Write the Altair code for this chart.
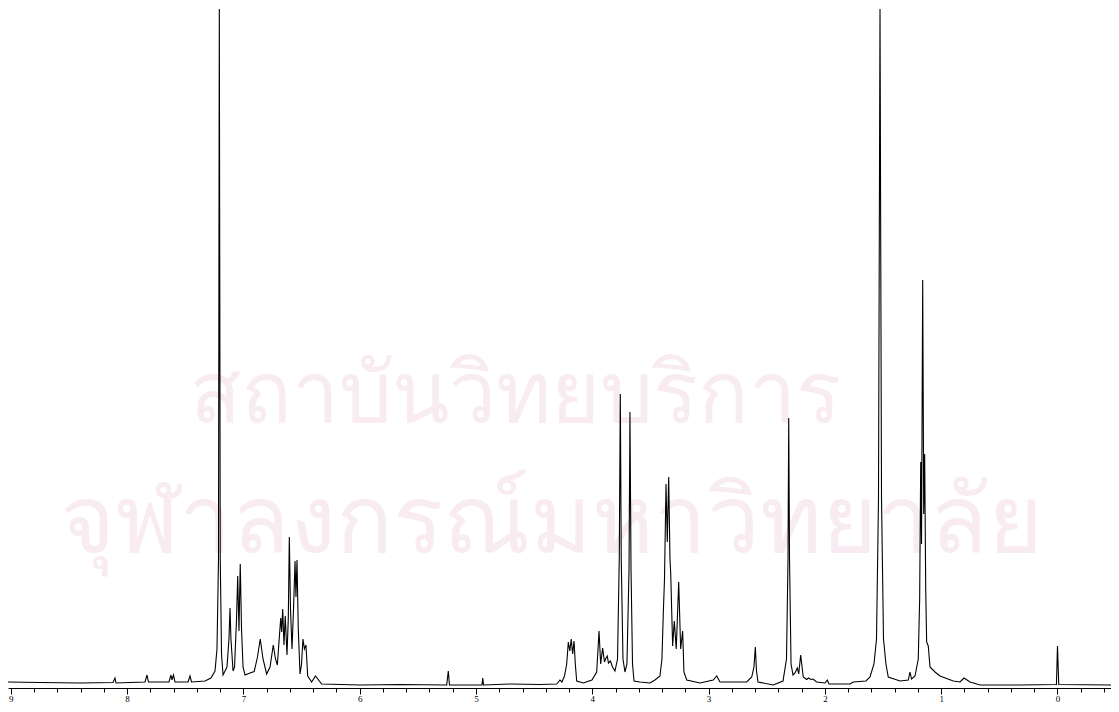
import altair as alt
import pandas as pd

# 1H NMR trace: chemical shift (ppm) and signal height
shift_ppm = [
    9.024, 8.749, 8.405, 8.121, 8.104, 8.095, 7.846, 7.829, 7.816, 7.640,
    7.623, 7.614, 7.601, 7.588, 7.476, 7.459, 7.446, 7.330, 7.279, 7.244,
    7.227, 7.214, 7.207, 7.199, 7.188, 7.175, 7.141, 7.124, 7.115, 7.107,
    7.089, 7.076, 7.059, 7.049, 7.038, 7.027, 7.016, 7.003, 6.986, 6.943,
    6.907, 6.879, 6.855, 6.831, 6.800, 6.771, 6.743, 6.724, 6.708, 6.694,
    6.679, 6.671, 6.662, 6.651, 6.640, 6.625, 6.614, 6.605, 6.595, 6.582,
    6.569, 6.556, 6.548, 6.539, 6.528, 6.513, 6.500, 6.488, 6.475, 6.462,
    6.447, 6.413, 6.380, 6.327, 5.997, 5.653, 5.252, 5.238, 5.228, 4.948,
    4.942, 4.935, 4.708, 4.450, 4.306, 4.278, 4.261, 4.239, 4.220, 4.206,
    4.193, 4.181, 4.169, 4.157, 4.146, 4.134, 4.077, 4.003, 3.962, 3.942,
    3.928, 3.911, 3.895, 3.886, 3.871, 3.861, 3.844, 3.826, 3.805, 3.783,
    3.768, 3.759, 3.751, 3.736, 3.719, 3.702, 3.684, 3.676, 3.667, 3.654,
    3.641, 3.590, 3.504, 3.461, 3.418, 3.401, 3.389, 3.379, 3.366, 3.355,
    3.343, 3.332, 3.326, 3.309, 3.295, 3.278, 3.257, 3.240, 3.223, 3.212,
    3.188, 3.074, 2.960, 2.930, 2.902, 2.672, 2.629, 2.610, 2.598, 2.588,
    2.575, 2.444, 2.360, 2.330, 2.317, 2.311, 2.304, 2.291, 2.274, 2.257,
    2.237, 2.225, 2.208, 2.186, 2.156, 2.141, 2.120, 2.102, 2.071, 1.999,
    1.979, 1.965, 1.784, 1.756, 1.647, 1.612, 1.578, 1.556, 1.539, 1.526,
    1.513, 1.496, 1.475, 1.455, 1.354, 1.283, 1.268, 1.255, 1.225, 1.197,
    1.185, 1.176, 1.169, 1.159, 1.150, 1.142, 1.133, 1.125, 1.111, 1.096,
    1.053, 1.010, 0.896, 0.838, 0.804, 0.752, 0.666, 0.322, 0.009, 0.000,
    -0.011, -0.529,
]
intensity = [
    3, 2.5, 2, 2.5, 7, 2, 3, 10, 3, 3,
    10, 5, 10, 3, 3, 9, 3, 4, 7, 14,
    36, 126, 676, 126, 31, 10, 18, 46, 77, 46,
    14, 18, 66, 109, 54, 121, 56, 18, 10, 12,
    13.5, 28, 46, 26, 11, 18, 40, 26, 20, 43,
    67, 53, 76, 40, 69, 30, 66, 148, 76, 36,
    76, 124, 88, 125, 56, 11, 21, 46, 36, 40,
    9, 3, 9, 1, 0, 0.5, 0, 14, 0, 0,
    7, 0, 1, 0.5, 1, 5, 3, 9, 21, 43,
    34, 46, 31, 44, 21, 4, 2, 5, 13, 54,
    21, 37, 23, 26, 29, 22, 24, 18, 14, 26,
    126, 291, 126, 26, 13, 21, 116, 273, 116, 21,
    4, 3, 2, 5, 9, 26, 73, 106, 201, 143,
    208, 126, 113, 39, 64, 36, 103, 36, 54, 13,
    5, 2, 5, 9, 3, 3, 8, 18, 38, 14,
    3, 0, 4, 26, 126, 267, 126, 21, 10, 12,
    17, 11, 30, 8, 5.5, 7, 5.5, 6, 3, 2,
    5, 1, 1, 3, 4, 8, 21, 46, 186, 676,
    186, 46, 21, 8, 4, 5, 13, 6, 9, 26,
    86, 223, 141, 405, 171, 231, 96, 43, 39, 18,
    13, 9, 4, 3, 7, 3, 0, 0, 0.5, 39,
    0.5, 0,
]

# ppm ticks every 0.2, numbered at whole values
tick_values = [
    9.0, 8.8, 8.6, 8.4, 8.2, 8.0, 7.8, 7.6, 7.4, 7.2, 7.0, 6.8, 6.6, 6.4,
    6.2, 6.0, 5.8, 5.6, 5.4, 5.2, 5.0, 4.8, 4.6, 4.4, 4.2, 4.0, 3.8, 3.6,
    3.4, 3.2, 3.0, 2.8, 2.6, 2.4, 2.2, 2.0, 1.8, 1.6, 1.4, 1.2, 1.0, 0.8,
    0.6, 0.4, 0.2, 0.0, -0.2, -0.4,
]

# faint watermark text of the thesis page
watermark_lines = ["สถาบันวิทยบริการ", "จุฬาลงกรณ์มหาวิทยาลัย"]

spectrum = pd.DataFrame({"ppm": shift_ppm, "intensity": intensity})

is_whole = "abs(datum.value - round(datum.value)) < 0.01"

x_axis = alt.Axis(
    values=tick_values,
    tickSize={"condition": {"test": is_whole, "value": 6}, "value": 4},
    labelExpr=is_whole + " ? format(datum.value, 'd') : ''",
    labelFont="Liberation Serif",
    labelFontSize=9,
    labelColor="black",
    labelPadding=0,
    labelOverlap=False,
    domainColor="black",
    tickColor="black",
    grid=False,
    title=None,
)

mark1 = alt.Chart(pd.DataFrame({"t": [watermark_lines[0]]})).mark_text(
    font="Noto Sans", fontSize=84, color="#f8ebf1", align="center", baseline="alphabetic"
).encode(x=alt.value(507), y=alt.value(414), text="t:N")

mark2 = alt.Chart(pd.DataFrame({"t": [watermark_lines[1]]})).mark_text(
    font="Noto Sans", fontSize=94, color="#f8ebf1", align="center", baseline="alphabetic"
).encode(x=alt.value(543), y=alt.value(544), text="t:N")

trace = alt.Chart(spectrum).mark_line(color="black", strokeWidth=1.1, clip=True).encode(
    x=alt.X("ppm:Q", scale=alt.Scale(domain=[9.024, -0.529], nice=False, zero=False), axis=x_axis),
    y=alt.Y("intensity:Q", scale=alt.Scale(domain=[-3, 677], nice=False, zero=False), axis=None),
)

# the axis runs to the right edge of the page, so the last 8px are cut off
chart = alt.layer(mark1, mark2, trace).properties(
    width=1111,
    height=680,
    autosize=alt.AutoSizeParams(type="none"),
    padding={"left": 0, "top": 0, "right": -8, "bottom": 16},
    background="white",
).configure_view(stroke=None)

chart.save("out.html", embed_options={"renderer": "svg", "actions": False})
